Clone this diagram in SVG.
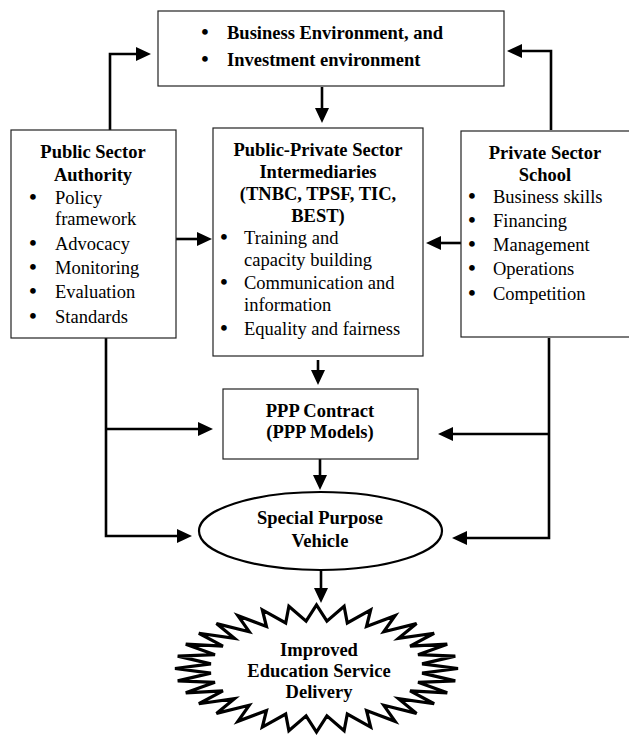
<svg xmlns="http://www.w3.org/2000/svg" width="629" height="736" viewBox="0 0 629 736">
<style>
text{font-family:"Liberation Serif","Times New Roman",serif;font-size:18.5px;fill:#000}
.b{font-weight:bold}
.c{text-anchor:middle}
.u{font-size:21px;text-anchor:middle;font-weight:bold}
.box{fill:#fff;stroke:#222;stroke-width:1.2}
.con{fill:none;stroke:#000;stroke-width:2.6}
</style>
<defs>
<marker id="ah" viewBox="0 0 15 14" refX="11" refY="7" markerWidth="15" markerHeight="14" markerUnits="userSpaceOnUse" orient="auto">
<path d="M0,0 L15,7 L0,14 Z" fill="#000"/>
</marker>
</defs>
<rect width="629" height="736" fill="#fff"/>

<g id="connectors">
<path class="con" marker-end="url(#ah)" d="M110,130 V54 H147"/>
<path class="con" marker-end="url(#ah)" d="M551,130 V51 H511"/>
<path class="con" marker-end="url(#ah)" d="M322,87 V119"/>
<path class="con" marker-end="url(#ah)" d="M176,239 H208"/>
<path class="con" marker-end="url(#ah)" d="M461,243 H430"/>
<path class="con" marker-end="url(#ah)" d="M318,360 V381"/>
<path class="con" marker-end="url(#ah)" d="M106,338 V536 H188"/>
<path class="con" marker-end="url(#ah)" d="M106,429 H209"/>
<path class="con" marker-end="url(#ah)" d="M549,338 V538 H456"/>
<path class="con" marker-end="url(#ah)" d="M549,434 H442"/>
<path class="con" marker-end="url(#ah)" d="M320,459 V486"/>
<path class="con" marker-end="url(#ah)" d="M321,570 V599"/>
</g>

<g id="environment">
<rect class="box" x="158" y="11" width="346" height="75"/>
<text class="u" x="205" y="39">•</text>
<text class="b" x="227" y="39">Business Environment, and</text>
<text class="u" x="205" y="66">•</text>
<text class="b" x="227" y="66">Investment environment</text>
</g>

<g id="public-sector">
<rect class="box" x="11" y="130" width="165" height="208"/>
<text class="b c" x="93" y="158">Public Sector</text>
<text class="b c" x="93" y="181">Authority</text>
<text class="u" x="33" y="204">•</text>
<text x="55" y="204">Policy</text>
<text x="55" y="225">framework</text>
<text class="u" x="33" y="250">•</text>
<text x="55" y="250">Advocacy</text>
<text class="u" x="33" y="274">•</text>
<text x="55" y="274">Monitoring</text>
<text class="u" x="33" y="298">•</text>
<text x="55" y="298">Evaluation</text>
<text class="u" x="33" y="323">•</text>
<text x="55" y="323">Standards</text>
</g>

<g id="intermediaries">
<rect class="box" x="213" y="128" width="210" height="228"/>
<text class="b c" x="318" y="156">Public-Private Sector</text>
<text class="b c" x="318" y="178">Intermediaries</text>
<text class="b c" x="318" y="200">(TNBC, TPSF, TIC,</text>
<text class="b c" x="318" y="222">BEST)</text>
<text class="u" x="224" y="244">•</text>
<text x="244" y="244">Training and</text>
<text x="244" y="266">capacity building</text>
<text class="u" x="224" y="289">•</text>
<text x="244" y="289">Communication and</text>
<text x="244" y="311">information</text>
<text class="u" x="224" y="335">•</text>
<text x="244" y="335">Equality and fairness</text>
</g>

<g id="private-sector">
<rect class="box" x="461" y="131" width="190" height="206"/>
<text class="b c" x="545" y="159">Private Sector</text>
<text class="b c" x="545" y="181">School</text>
<text class="u" x="472" y="203">•</text>
<text x="493" y="203">Business skills</text>
<text class="u" x="472" y="227">•</text>
<text x="493" y="227">Financing</text>
<text class="u" x="472" y="251">•</text>
<text x="493" y="251">Management</text>
<text class="u" x="472" y="275">•</text>
<text x="493" y="275">Operations</text>
<text class="u" x="472" y="300">•</text>
<text x="493" y="300">Competition</text>
</g>

<g id="ppp-contract">
<rect class="box" x="223" y="389" width="195" height="70"/>
<text class="b c" x="320" y="417">PPP Contract</text>
<text class="b c" x="320" y="438">(PPP Models)</text>
</g>

<g id="spv">
<ellipse cx="320.5" cy="531" rx="121.5" ry="39" fill="#fff" stroke="#000" stroke-width="2.2"/>
<text class="b c" x="320" y="524">Special Purpose</text>
<text class="b c" x="320" y="547">Vehicle</text>
</g>

<g id="outcome">
<polygon transform="translate(316.5,668.5) scale(1.415,0.635)" vector-effect="non-scaling-stroke" fill="#fff" stroke="#000" stroke-width="3.2" stroke-linejoin="miter" points="100,0 74.64,7.35 98.08,19.51 71.77,21.77 92.39,38.27 66.14,35.36 83.15,55.56 57.98,47.58 70.71,70.71 47.58,57.98 55.56,83.15 35.36,66.14 38.27,92.39 21.77,71.77 19.51,98.08 7.35,74.64 0,100 -7.35,74.64 -19.51,98.08 -21.77,71.77 -38.27,92.39 -35.36,66.14 -55.56,83.15 -47.58,57.98 -70.71,70.71 -57.98,47.58 -83.15,55.56 -66.14,35.36 -92.39,38.27 -71.77,21.77 -98.08,19.51 -74.64,7.35 -100,0 -74.64,-7.35 -98.08,-19.51 -71.77,-21.77 -92.39,-38.27 -66.14,-35.36 -83.15,-55.56 -57.98,-47.58 -70.71,-70.71 -47.58,-57.98 -55.56,-83.15 -35.36,-66.14 -38.27,-92.39 -21.77,-71.77 -19.51,-98.08 -7.35,-74.64 0,-100 7.35,-74.64 19.51,-98.08 21.77,-71.77 38.27,-92.39 35.36,-66.14 55.56,-83.15 47.58,-57.98 70.71,-70.71 57.98,-47.58 83.15,-55.56 66.14,-35.36 92.39,-38.27 71.77,-21.77 98.08,-19.51 74.64,-7.35"/>
<text class="b c" x="319" y="656">Improved</text>
<text class="b c" x="319" y="677">Education Service</text>
<text class="b c" x="319" y="698">Delivery</text>
</g>
</svg>
